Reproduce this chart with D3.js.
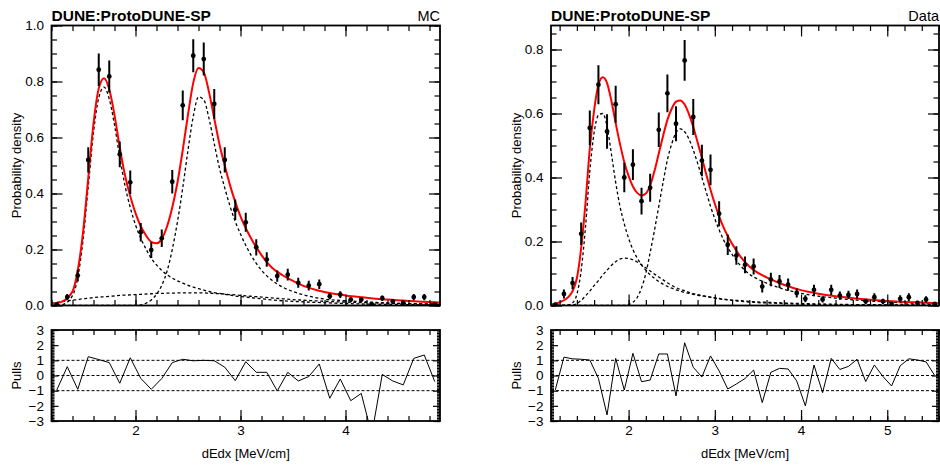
<!DOCTYPE html>
<html><head><meta charset="utf-8">
<script src="https://cdn.jsdelivr.net/npm/d3@7"></script>
<style>
body{margin:0;background:#fff;}
svg text{font-family:"Liberation Sans",Arial,Helvetica,sans-serif;fill:#000;}
</style></head><body>
<svg id="c" width="940" height="468"></svg>
<script>
// ---------- MC sample (left) ----------
const mcBins = [1.25,1.35,1.45,1.55,1.65,1.75,1.85,1.95,2.05,2.15,2.25,2.35,2.45,2.55,2.65,2.75,2.85,2.95,3.05,3.15,3.25,3.35,3.45,3.55,3.65,3.75,3.85,3.95,4.05,4.15,4.25,4.35,4.45,4.55,4.65,4.75,4.85];
const mcDensity = [0.004,0.030,0.107,0.520,0.842,0.818,0.540,0.440,0.262,0.198,0.240,0.442,0.715,0.892,0.880,0.720,0.520,0.342,0.297,0.208,0.164,0.105,0.110,0.081,0.071,0.076,0.033,0.039,0.021,0.021,0.004,0.026,0.015,0.010,0.030,0.030,0.004];
const mcError = [0.004,0.011,0.021,0.045,0.058,0.057,0.046,0.042,0.033,0.028,0.031,0.042,0.053,0.059,0.059,0.053,0.045,0.037,0.034,0.029,0.026,0.020,0.021,0.018,0.017,0.017,0.011,0.012,0.009,0.009,0.004,0.010,0.008,0.006,0.011,0.011,0.004];
const mcPulls = [-0.96,0.58,-0.91,1.24,1.05,0.85,-0.51,1.17,-0.19,-0.91,-0.20,0.85,1.07,0.97,1.00,0.97,0.55,-0.34,0.91,0.21,0.21,-1.02,0.21,-0.36,-0.07,0.76,-1.50,-0.23,-1.66,-1.18,-3.90,0.07,-0.36,-0.62,1.13,1.35,-0.40];

const mcCurveX = [1.20,1.30,1.40,1.45,1.50,1.55,1.60,1.65,1.70,1.75,1.80,1.85,1.90,1.95,2.00,2.05,2.10,2.15,2.20,2.25,2.30,2.35,2.40,2.45,2.50,2.55,2.60,2.65,2.70,2.75,2.80,2.85,2.90,2.95,3.00,3.10,3.20,3.30,3.40,3.50,3.60,3.80,4.00,4.20,4.40,4.60,4.90];
const mcFitTotal = [0.006,0.014,0.050,0.125,0.260,0.455,0.650,0.775,0.812,0.772,0.680,0.565,0.465,0.390,0.330,0.283,0.250,0.227,0.222,0.238,0.282,0.350,0.440,0.555,0.682,0.795,0.848,0.833,0.762,0.668,0.575,0.500,0.430,0.370,0.318,0.240,0.180,0.135,0.108,0.088,0.070,0.048,0.036,0.028,0.021,0.016,0.011];
const mcFitPeak1 = [0.000,0.003,0.035,0.100,0.232,0.425,0.618,0.742,0.780,0.738,0.645,0.530,0.428,0.350,0.288,0.240,0.202,0.168,0.145,0.125,0.110,0.098,0.088,0.080,0.072,0.066,0.060,0.055,0.050,0.046,0.043,0.040,0.037,0.034,0.032,0.028,0.024,0.020,0.017,0.015,0.013,0.010,0.007,0.005,0.004,0.003,0.002];
const mcFitPeak2 = [0,0,0,0,0,0,0,0,0,0,0,0,0,0,0,0.002,0.008,0.020,0.040,0.072,0.122,0.200,0.300,0.420,0.555,0.675,0.745,0.735,0.668,0.578,0.490,0.420,0.355,0.300,0.255,0.180,0.126,0.090,0.066,0.050,0.038,0.023,0.017,0.013,0.009,0.006,0.004];
const mcFitBroad = [0.008,0.014,0.019,0.021,0.024,0.026,0.028,0.030,0.031,0.033,0.034,0.036,0.037,0.038,0.039,0.040,0.041,0.042,0.043,0.043,0.044,0.044,0.045,0.045,0.045,0.045,0.045,0.045,0.044,0.043,0.042,0.041,0.039,0.038,0.036,0.033,0.030,0.027,0.024,0.021,0.019,0.015,0.012,0.010,0.008,0.007,0.005];

// ---------- Data sample (right) ----------
const dataBins = [1.15,1.25,1.35,1.45,1.55,1.65,1.75,1.85,1.95,2.05,2.15,2.25,2.35,2.45,2.55,2.65,2.75,2.85,2.95,3.05,3.15,3.25,3.35,3.45,3.55,3.65,3.75,3.85,3.95,4.05,4.15,4.25,4.35,4.45,4.55,4.65,4.75,4.85,4.95,5.05,5.15,5.25,5.35,5.45,5.55];
const dataDensity = [0.003,0.036,0.070,0.224,0.555,0.690,0.544,0.629,0.400,0.440,0.326,0.368,0.549,0.663,0.568,0.766,0.589,0.453,0.424,0.287,0.190,0.156,0.127,0.122,0.059,0.081,0.075,0.065,0.039,0.021,0.049,0.019,0.049,0.031,0.033,0.036,0.013,0.026,0.013,0.005,0.021,0.026,0.008,0.019,0.005];
const dataError = [0.004,0.014,0.019,0.035,0.054,0.061,0.054,0.058,0.046,0.048,0.042,0.044,0.054,0.059,0.055,0.064,0.056,0.049,0.048,0.039,0.032,0.029,0.026,0.025,0.018,0.021,0.020,0.019,0.014,0.011,0.016,0.010,0.016,0.013,0.013,0.014,0.008,0.012,0.008,0.005,0.011,0.012,0.007,0.010,0.005];
const dataPulls = [-0.95,1.21,1.10,1.07,1.02,-0.19,-2.60,1.13,-0.96,1.46,-0.41,-0.30,1.42,1.42,-1.35,2.16,0.54,-0.10,1.29,0.30,-0.89,-0.56,-0.20,0.36,-1.79,0.21,0.47,0.43,-0.36,-2.00,0.69,-1.13,1.13,0.40,0.60,1.07,-0.40,0.69,-0.07,-0.69,0.64,1.10,1.02,0.90,0.00];

const dataCurveX = [1.10,1.20,1.30,1.35,1.40,1.45,1.50,1.55,1.60,1.65,1.70,1.75,1.80,1.85,1.90,1.95,2.00,2.05,2.10,2.15,2.20,2.25,2.30,2.35,2.40,2.45,2.50,2.55,2.60,2.65,2.70,2.75,2.80,2.85,2.90,2.95,3.00,3.10,3.20,3.30,3.40,3.50,3.60,3.80,4.00,4.20,4.40,4.60,4.80,5.00,5.20,5.40,5.60];
const dataFitTotal = [0.003,0.010,0.026,0.045,0.085,0.180,0.320,0.490,0.610,0.690,0.713,0.695,0.640,0.570,0.505,0.448,0.405,0.372,0.352,0.344,0.350,0.375,0.420,0.475,0.530,0.580,0.615,0.637,0.641,0.628,0.598,0.558,0.510,0.462,0.410,0.362,0.318,0.245,0.193,0.152,0.122,0.102,0.088,0.065,0.048,0.037,0.029,0.023,0.018,0.014,0.011,0.009,0.007];
const dataFitPeak1 = [0,0,0.002,0.008,0.035,0.110,0.245,0.420,0.540,0.595,0.600,0.560,0.475,0.385,0.310,0.255,0.210,0.175,0.148,0.127,0.110,0.096,0.085,0.075,0.067,0.060,0.054,0.049,0.045,0.041,0.038,0.035,0.032,0.030,0.028,0.026,0.024,0.020,0.017,0.015,0.013,0.011,0.010,0.008,0.006,0.005,0.004,0.003,0.003,0.002,0.002,0.002,0.001];
const dataFitPeak2 = [0,0,0,0,0,0,0,0,0,0,0,0,0,0,0,0,0.003,0.010,0.025,0.055,0.100,0.165,0.235,0.310,0.385,0.455,0.505,0.540,0.552,0.543,0.520,0.486,0.445,0.400,0.355,0.310,0.271,0.206,0.160,0.124,0.098,0.082,0.070,0.051,0.038,0.029,0.023,0.018,0.014,0.011,0.008,0.006,0.005];
const dataFitBroad = [0,0,0,0.001,0.006,0.016,0.030,0.045,0.062,0.078,0.095,0.110,0.125,0.137,0.145,0.148,0.147,0.143,0.136,0.127,0.118,0.108,0.098,0.089,0.080,0.071,0.063,0.056,0.050,0.046,0.041,0.037,0.034,0.031,0.028,0.026,0.023,0.019,0.016,0.013,0.011,0.009,0.008,0.006,0.004,0.003,0.002,0.002,0.001,0.001,0.001,0.001,0.001];

// ---------- axis ticks and labels ----------
const mcXTicks = [2,3,4];
const dataXTicks = [2,3,4,5];
const mcYTicks = [0,0.2,0.4,0.6,0.8,1.0];
const dataYTicks = [0,0.2,0.4,0.6,0.8];
const pullTicks = [-3,-2,-1,0,1,2,3];
const pullRefLines = [-1,0,1];
const xTitle = "dEdx [MeV/cm]";
const yTitle = "Probability density";
const pullTitle = "Pulls";
const expTitle = "DUNE:ProtoDUNE-SP";

// ---------- layout ----------
const MAIN_TOP = 25.5, MAIN_BOTTOM = 305.5;
const PULL_TOP = 330, PULL_BOTTOM = 421;
const FONT = '"Liberation Sans",Arial,Helvetica,sans-serif';

const svg = d3.select('#c');
const defs = svg.append('defs');

function addAxis(g, axisFn, scale, values, len, pos, withLabels, fmt, pad) {
  const a = axisFn(scale).tickValues(values).tickSizeInner(-len).tickSizeOuter(0).tickPadding(pad || 0)
    .tickFormat(withLabels ? fmt : () => '');
  const sel = g.append('g').attr('transform', pos).call(a);
  sel.attr('font-family', FONT).attr('font-size', 13.5);
  sel.select('.domain').remove();
  sel.selectAll('line').attr('stroke', '#000').attr('stroke-width', 1.2);
  sel.selectAll('text').attr('fill', '#000');
  return sel;
}

function drawPanel(p) {
  const g = svg.append('g');
  const x = d3.scaleLinear().domain(p.xDomain).range([p.left, p.right]);
  const y = d3.scaleLinear().domain(p.yDomain).range([MAIN_BOTTOM, MAIN_TOP]);
  const yp = d3.scaleLinear().domain([-3, 3]).range([PULL_BOTTOM, PULL_TOP]);
  const w = p.right - p.left;

  defs.append('clipPath').attr('id', p.id + 'Main').append('rect')
    .attr('x', p.left).attr('y', MAIN_TOP).attr('width', w).attr('height', MAIN_BOTTOM - MAIN_TOP);
  defs.append('clipPath').attr('id', p.id + 'Pull').append('rect')
    .attr('x', p.left).attr('y', PULL_TOP).attr('width', w).attr('height', PULL_BOTTOM - PULL_TOP);

  // ---- upper pad: fitted components, total fit, data ----
  const plot = g.append('g').attr('clip-path', `url(#${p.id}Main)`);
  const line = d3.line().x(d => x(d[0])).y(d => y(d[1])).curve(d3.curveMonotoneX);
  [p.peak1, p.peak2, p.broad].forEach(comp => {
    plot.append('path').datum(d3.zip(p.curveX, comp)).attr('d', line)
      .attr('fill', 'none').attr('stroke', '#000').attr('stroke-width', 1.3)
      .attr('stroke-dasharray', '3,2.5');
  });
  plot.append('path').datum(d3.zip(p.curveX, p.total)).attr('d', line)
    .attr('fill', 'none').attr('stroke', '#ff0000').attr('stroke-width', 2);

  const pts = d3.zip(p.bins, p.density, p.error);
  plot.selectAll('line.err').data(pts).join('line').attr('class', 'err')
    .attr('x1', d => x(d[0])).attr('x2', d => x(d[0]))
    .attr('y1', d => y(d[1] - d[2])).attr('y2', d => y(d[1] + d[2]))
    .attr('stroke', '#000').attr('stroke-width', 2);
  plot.selectAll('circle.pt').data(pts).join('circle').attr('class', 'pt')
    .attr('cx', d => x(d[0])).attr('cy', d => y(d[1])).attr('r', 2.4).attr('fill', '#000');

  // axes of the upper pad (ticks point inwards on all four sides)
  const xMinor = x.ticks(20), yMinor = y.ticks(20);
  addAxis(g, d3.axisLeft, y, p.yTicks, 11, `translate(${p.left},0)`, true, d3.format('.1f'), 7.5);
  addAxis(g, d3.axisLeft, y, yMinor, 5.5, `translate(${p.left},0)`, false);
  addAxis(g, d3.axisRight, y, p.yTicks, 11, `translate(${p.right},0)`, false);
  addAxis(g, d3.axisRight, y, yMinor, 5.5, `translate(${p.right},0)`, false);
  addAxis(g, d3.axisTop, x, p.xTicks, 11, `translate(0,${MAIN_TOP})`, false);
  addAxis(g, d3.axisTop, x, xMinor, 5.5, `translate(0,${MAIN_TOP})`, false);
  addAxis(g, d3.axisBottom, x, p.xTicks, 11, `translate(0,${MAIN_BOTTOM})`, false);
  addAxis(g, d3.axisBottom, x, xMinor, 5.5, `translate(0,${MAIN_BOTTOM})`, false);
  g.append('rect').attr('x', p.left).attr('y', MAIN_TOP).attr('width', w).attr('height', MAIN_BOTTOM - MAIN_TOP)
    .attr('fill', 'none').attr('stroke', '#000').attr('stroke-width', 1.8);

  // ---- lower pad: pulls ----
  const pull = g.append('g').attr('clip-path', `url(#${p.id}Pull)`);
  pull.selectAll('line.ref').data(pullRefLines).join('line').attr('class', 'ref')
    .attr('x1', p.left).attr('x2', p.right).attr('y1', d => yp(d)).attr('y2', d => yp(d))
    .attr('stroke', '#000').attr('stroke-width', 1).attr('stroke-dasharray', '3,2');
  pull.append('path').datum(d3.zip(p.bins, p.pulls))
    .attr('d', d3.line().x(d => x(d[0])).y(d => yp(d[1])))
    .attr('fill', 'none').attr('stroke', '#000').attr('stroke-width', 1);

  const ypMinor = yp.ticks(60);
  addAxis(g, d3.axisLeft, yp, pullTicks, 7, `translate(${p.left},0)`, true, d3.format('d'), 7.5);
  addAxis(g, d3.axisLeft, yp, ypMinor, 3, `translate(${p.left},0)`, false);
  addAxis(g, d3.axisRight, yp, pullTicks, 7, `translate(${p.right},0)`, false);
  addAxis(g, d3.axisRight, yp, ypMinor, 3, `translate(${p.right},0)`, false);
  addAxis(g, d3.axisTop, x, p.xTicks, 11, `translate(0,${PULL_TOP})`, false);
  addAxis(g, d3.axisTop, x, xMinor, 5, `translate(0,${PULL_TOP})`, false);
  addAxis(g, d3.axisBottom, x, p.xTicks, 11, `translate(0,${PULL_BOTTOM})`, true, d3.format('d'), 4);
  addAxis(g, d3.axisBottom, x, xMinor, 5, `translate(0,${PULL_BOTTOM})`, false);
  g.append('rect').attr('x', p.left).attr('y', PULL_TOP).attr('width', w).attr('height', PULL_BOTTOM - PULL_TOP)
    .attr('fill', 'none').attr('stroke', '#000').attr('stroke-width', 1.8);

  // ---- titles ----
  g.append('text').attr('x', p.left).attr('y', 21).attr('font-size', 15.5).attr('font-weight', 'bold').text(expTitle);
  g.append('text').attr('x', p.right).attr('y', 21).attr('font-size', 14.5).attr('text-anchor', 'end').text(p.tag);
  g.append('text').attr('transform', `translate(${p.left - 30.5},${(MAIN_TOP + MAIN_BOTTOM) / 2}) rotate(-90)`)
    .attr('font-size', 13).attr('text-anchor', 'middle').text(yTitle);
  g.append('text').attr('transform', `translate(${p.left - 30.5},${(PULL_TOP + PULL_BOTTOM) / 2}) rotate(-90)`)
    .attr('font-size', 13).attr('text-anchor', 'middle').text(pullTitle);
  g.append('text').attr('x', (p.left + p.right) / 2).attr('y', 458).attr('font-size', 13)
    .attr('text-anchor', 'middle').text(xTitle);
}

drawPanel({
  id: 'mc', tag: 'MC', left: 51.5, right: 440, xDomain: [1.2, 4.9], yDomain: [0, 1.0],
  xTicks: mcXTicks, yTicks: mcYTicks,
  bins: mcBins, density: mcDensity, error: mcError, pulls: mcPulls,
  curveX: mcCurveX, total: mcFitTotal, peak1: mcFitPeak1, peak2: mcFitPeak2, broad: mcFitBroad
});
drawPanel({
  id: 'data', tag: 'Data', left: 551, right: 939, xDomain: [1.1, 5.6], yDomain: [0, 0.875],
  xTicks: dataXTicks, yTicks: dataYTicks,
  bins: dataBins, density: dataDensity, error: dataError, pulls: dataPulls,
  curveX: dataCurveX, total: dataFitTotal, peak1: dataFitPeak1, peak2: dataFitPeak2, broad: dataFitBroad
});
</script>
</body></html>
